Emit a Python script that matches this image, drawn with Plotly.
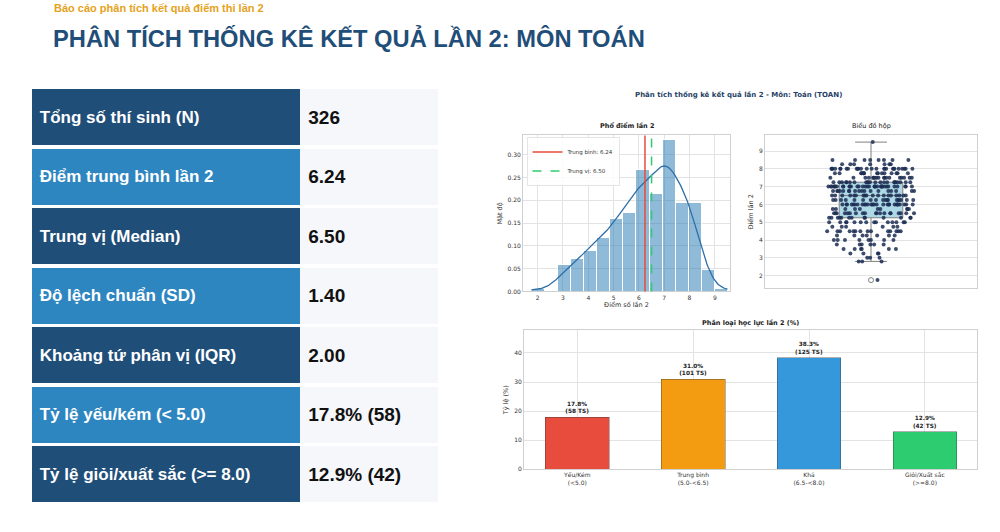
"""
Bao cao phan tich ket qua lan 2 - mon Toan
"""
import numpy as np
import plotly.graph_objects as go

# bang thong ke tong hop
stat_labels = [
    "Tổng số thí sinh (N)",
    "Điểm trung bình lần 2",
    "Trung vị (Median)",
    "Độ lệch chuẩn (SD)",
    "Khoảng tứ phân vị (IQR)",
    "Tỷ lệ yếu/kém (< 5.0)",
    "Tỷ lệ giỏi/xuất sắc (>= 8.0)",
]
stat_values = ["326", "6.24", "6.50", "1.40", "2.00", "17.8% (58)", "12.9% (42)"]

# diem lan 2: muc diem -> so thi sinh
score_levels = [1.75, 2.8, 3.0, 3.25, 3.5, 3.75, 4.0, 4.25, 4.5, 4.75, 5.0, 5.25, 5.5,
                5.75, 6.0, 6.25, 6.5, 6.75, 7.0, 7.25, 7.5, 7.75, 8.0, 8.25, 8.5, 9.5]
score_counts = [1, 3, 3, 4, 6, 6, 8, 7, 14, 6, 14, 13, 19,
                10, 27, 18, 18, 18, 34, 22, 18, 15, 26, 7, 8, 1]

# phan loai hoc luc
class_labels = ["Yếu/Kém<br>(<5.0)", "Trung bình<br>(5.0-<6.5)",
                "Khá<br>(6.5-<8.0)", "Giỏi/Xuất sắc<br>(>=8.0)"]
class_pct = [17.8, 31.0, 38.3, 12.9]
class_counts = [58, 101, 125, 42]

HIST_BINS = 15
NAVY = "#1f4e79"
ROW_DARK = "#1f4e79"
ROW_LIGHT = "#2e86c1"
VALUE_BG = "#f5f7fa"
CLASS_COLORS = ["#e74c3c", "#f39c12", "#3498db", "#2ecc71"]
GRID = "#e3e3e3"
SPINE = "#d0d0d0"
CHART_FONT = "DejaVu Sans"
SLIDE_FONT = "Liberation Sans"


def kde(values, grid):
    bw = values.std(ddof=1) * len(values) ** (-1 / 5)
    z = (grid[:, None] - values[None, :]) / bw
    return np.exp(-0.5 * z ** 2).sum(axis=1) / (len(values) * bw * np.sqrt(2 * np.pi))


scores = np.repeat(score_levels, score_counts)
mean_score = scores.mean()
median_score = np.median(scores)
density, edges = np.histogram(scores, bins=HIST_BINS, density=True)
centers = (edges[:-1] + edges[1:]) / 2
grid = np.linspace(scores.min(), scores.max(), 200)

fig = go.Figure()

# --- bang ben trai (ve bang bar ngang de can giua chu) ---
row_fill = [ROW_DARK if i % 2 == 0 else ROW_LIGHT for i in range(len(stat_labels))]
fig.add_trace(go.Bar(
    y=stat_labels, x=[0.66] * len(stat_labels), orientation="h", width=0.94,
    marker=dict(color=row_fill, line=dict(width=0)),
    text=["\u00a0<b>" + s + "</b>" for s in stat_labels],
    textposition="inside", insidetextanchor="start", textangle=0,
    textfont=dict(family=SLIDE_FONT, size=17, color="white"),
    xaxis="x4", yaxis="y4", hoverinfo="skip", showlegend=False,
))
fig.add_trace(go.Bar(
    y=stat_labels, x=[0.34] * len(stat_labels), orientation="h", width=0.94,
    marker=dict(color=VALUE_BG, line=dict(width=0)),
    text=["\u00a0<b>" + v + "</b>" for v in stat_values],
    textposition="inside", insidetextanchor="start", textangle=0,
    textfont=dict(family=SLIDE_FONT, size=19, color="#111111"),
    xaxis="x4", yaxis="y4", hoverinfo="skip", showlegend=False,
))

# --- pho diem ---
fig.add_trace(go.Bar(
    x=centers, y=density, width=edges[1] - edges[0],
    marker=dict(color="rgba(31,119,180,0.5)", line=dict(color="white", width=1)),
    xaxis="x", yaxis="y", hoverinfo="skip", showlegend=False,
))
fig.add_trace(go.Scatter(
    x=grid, y=kde(scores, grid), mode="lines",
    line=dict(color="#2f6fa8", width=1.3),
    xaxis="x", yaxis="y", hoverinfo="skip", showlegend=False,
))
fig.add_shape(type="line", xref="x", yref="y domain", x0=mean_score, x1=mean_score,
              y0=0, y1=1, line=dict(color="#e74c3c", width=1.5),
              showlegend=True, legendrank=1, name=f"Trung bình: {mean_score:.2f}")
fig.add_shape(type="line", xref="x", yref="y domain", x0=median_score, x1=median_score,
              y0=0, y1=1, line=dict(color="#2ecc71", width=1.5, dash="dash"),
              showlegend=True, legendrank=2, name=f"Trung vị: {median_score:.2f}")

# --- bieu do hop ---
fig.add_trace(go.Box(
    y=scores, x0=0, width=0.3, whiskerwidth=0.5,
    fillcolor="#add8e6", line=dict(color="#808080", width=1),
    boxpoints="outliers", pointpos=0, jitter=0,
    marker=dict(symbol="circle-open", color="#808080", size=5),
    xaxis="x2", yaxis="y2", hoverinfo="skip", showlegend=False,
))
fig.add_trace(go.Box(
    y=scores, x0=0, width=0.42,
    fillcolor="rgba(0,0,0,0)", line=dict(width=0),
    boxpoints="all", pointpos=0, jitter=1,
    marker=dict(color="#1c2e54", size=4, opacity=0.85),
    xaxis="x2", yaxis="y2", hoverinfo="skip", showlegend=False,
))

# --- phan loai hoc luc ---
fig.add_trace(go.Bar(
    x=class_labels, y=class_pct, width=0.55,
    marker=dict(color=CLASS_COLORS, line=dict(color="rgba(60,60,60,0.5)", width=0.8)),
    text=[f"<b>{p:.1f}%<br>({c} TS)</b>" for p, c in zip(class_pct, class_counts)],
    textposition="outside", cliponaxis=False,
    textfont=dict(family=CHART_FONT, size=5.8, color="#222"),
    xaxis="x3", yaxis="y3", hoverinfo="skip", showlegend=False,
))

axis_style = dict(showline=True, mirror=True, linecolor=SPINE, linewidth=1,
                  gridcolor=GRID, zeroline=False, ticks="",
                  tickfont=dict(family=CHART_FONT, size=6, color="#333"))
title_font = dict(family=CHART_FONT, size=6.5, color="#333")

fig.update_layout(
    width=1000, height=532,
    margin=dict(l=0, r=0, t=0, b=0),
    paper_bgcolor="white", plot_bgcolor="white",
    barmode="stack", boxmode="overlay",
    showlegend=True,
    legend=dict(x=0.527, y=0.741, xanchor="left", yanchor="top",
                font=dict(family=CHART_FONT, size=5.5, color="#333"),
                bgcolor="rgba(255,255,255,0.85)", bordercolor="#cccccc", borderwidth=0.5,
                itemwidth=30, tracegroupgap=0, traceorder="normal"),
    xaxis=dict(axis_style, domain=[0.523, 0.730], anchor="y", range=[1.42, 9.6], dtick=1,
               title=dict(text="Điểm số lần 2", font=title_font, standoff=2)),
    yaxis=dict(axis_style, domain=[0.449, 0.744], anchor="x", range=[0, 0.342],
               dtick=0.05, tickformat=".2f",
               title=dict(text="Mật độ", font=title_font, standoff=4)),
    xaxis2=dict(axis_style, domain=[0.765, 0.977], anchor="y2", range=[-0.5, 0.5],
                showticklabels=False, showgrid=False),
    yaxis2=dict(axis_style, domain=[0.455, 0.744], anchor="x2", range=[1.29, 9.875],
                dtick=1, title=dict(text="Điểm lần 2", font=title_font, standoff=4)),
    xaxis3=dict(axis_style, domain=[0.524, 0.977], anchor="y3", range=[-0.46, 3.45]),
    yaxis3=dict(axis_style, domain=[0.113, 0.376], anchor="x3",
                range=[0, max(class_pct) * 1.25], dtick=10,
                title=dict(text="Tỷ lệ (%)", font=title_font, standoff=4)),
    xaxis4=dict(domain=[0.032, 0.438], anchor="y4", range=[0, 1], visible=False),
    yaxis4=dict(domain=[0.047, 0.835], anchor="x4", autorange="reversed", visible=False),
)

annotations = [
    dict(text="<b>Báo cáo phân tích kết quả điểm thi lần 2</b>", x=0.052, y=0.985,
         font=dict(family=SLIDE_FONT, size=11, color="#e5a21c"), xanchor="left"),
    dict(text="<b>PHÂN TÍCH THỐNG KÊ KẾT QUẢ LẦN 2: MÔN TOÁN</b>", x=0.051, y=0.929,
         font=dict(family=SLIDE_FONT, size=23.7, color=NAVY), xanchor="left"),
    dict(text="<b>Phân tích thống kê kết quả lần 2 - Môn: Toán (TOAN)</b>", x=0.738, y=0.822,
         font=dict(family=CHART_FONT, size=7, color="#1f3f66"), xanchor="center"),
    dict(text="<b>Phổ điểm lần 2</b>", x=0.6265, y=0.761,
         font=dict(family=CHART_FONT, size=6.5, color="#222"), xanchor="center"),
    dict(text="Biểu đồ hộp", x=0.871, y=0.761,
         font=dict(family=CHART_FONT, size=6.5, color="#222"), xanchor="center"),
    dict(text="<b>Phân loại học lực lần 2 (%)</b>", x=0.7505, y=0.389,
         font=dict(family=CHART_FONT, size=6.5, color="#222"), xanchor="center"),
]
for a in annotations:
    fig.add_annotation(xref="paper", yref="paper", showarrow=False, yanchor="middle", **a)

# bo margin mac dinh cua trang de hinh nam dung 1000x532
fig.write_html("out.html", config={"displayModeBar": False},
               post_script="document.body.style.margin='0';")
